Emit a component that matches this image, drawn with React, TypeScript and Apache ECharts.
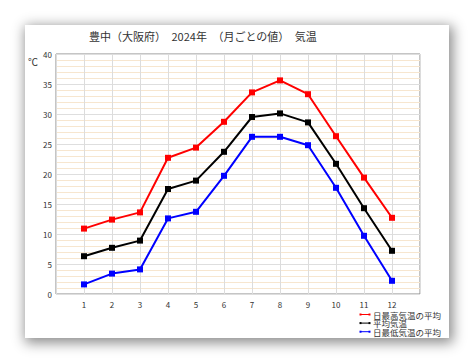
import React, { useEffect, useRef } from "react";
import * as echarts from "echarts";

const months = [1, 2, 3, 4, 5, 6, 7, 8, 9, 10, 11, 12];
const maxTemp = [10.9, 12.4, 13.6, 22.7, 24.4, 28.7, 33.6, 35.6, 33.3, 26.3, 19.4, 12.7];
const meanTemp = [6.3, 7.7, 8.9, 17.5, 18.9, 23.7, 29.5, 30.1, 28.6, 21.7, 14.3, 7.2];
const minTemp = [1.6, 3.4, 4.1, 12.6, 13.7, 19.7, 26.2, 26.2, 24.8, 17.7, 9.7, 2.2];
const seriesNames = ["日最高気温の平均", "平均気温", "日最低気温の平均"];
const titleText = "豊中（大阪府）　2024年　（月ごとの値）　気温";
const unitText = "℃";

const FONT = "'Noto Sans CJK JP', 'Noto Sans', sans-serif";

export default function App() {
  const ref = useRef<HTMLDivElement>(null);
  useEffect(() => {
    if (!ref.current) return;
    const chart = echarts.init(ref.current, undefined, { renderer: "svg" });
    const mk = (vals: number[]) => vals.map((v, i) => [months[i], v]);
    const colors = ["#ff0000", "#000000", "#0000ff"];
    const datas = [maxTemp, meanTemp, minTemp];
    const legendItems: any[] = [];
    seriesNames.forEach((name, i) => {
      const cy = 314.5 + i * 8.6;
      legendItems.push(
        { type: "line", shape: { x1: 360, y1: cy, x2: 370, y2: cy }, style: { stroke: colors[i], lineWidth: 1 } },
        { type: "rect", shape: { x: 359.5, y: cy - 1, width: 2, height: 2 }, style: { fill: colors[i] } },
        { type: "rect", shape: { x: 368.5, y: cy - 1, width: 2, height: 2 }, style: { fill: colors[i] } },
        {
          type: "text",
          x: 373,
          y: cy,
          style: {
            text: name,
            fontSize: 8.5,
            fontFamily: "Noto Sans CJK JP",
            lineHeight: 8,
            fill: "#333333",
            verticalAlign: "middle",
            align: "left",
          },
        }
      );
    });
    chart.setOption({
      animation: false,
      textStyle: { fontFamily: FONT },
      grid: { left: 56, top: 54, width: 364, height: 240, show: true, borderColor: "#8a8a8a", borderWidth: 1, backgroundColor: "#ffffff" },
      graphic: [
        { type: "text", left: 89, top: 30, style: { text: titleText, font: `11px ${FONT}`, fill: "#333333" } },
        { type: "text", left: 28, top: 56, style: { text: unitText, font: `10px ${FONT}`, fill: "#333333" } },
        ...legendItems,
      ],
      xAxis: {
        type: "value",
        min: 0,
        max: 13,
        interval: 1,
        axisLine: { show: false },
        axisTick: { show: false },
        axisLabel: {
          fontSize: 8,
          color: "#333333",
          margin: 6,
          formatter: (v: number) => (v >= 1 && v <= 12 ? String(v) : ""),
        },
        splitLine: { show: true, lineStyle: { color: "#dcdcdc", width: 1 } },
      },
      yAxis: {
        type: "value",
        min: 0,
        max: 40,
        interval: 5,
        axisLine: { show: false },
        axisTick: { show: false },
        axisLabel: { fontSize: 8, color: "#333333", margin: 4 },
        splitLine: { show: true, lineStyle: { color: "#dedede", width: 1 } },
        minorTick: { show: false, splitNumber: 5 },
        minorSplitLine: { show: true, lineStyle: { color: "#f7e6cf", width: 1 } },
      },
      series: datas.map((d, i) => ({
        name: seriesNames[i],
        type: "line",
        data: mk(d),
        symbol: "rect",
        symbolSize: 6,
        color: colors[i],
        lineStyle: { color: colors[i], width: 2 },
        itemStyle: { color: colors[i] },
        z: 10 - i,
      })),
    });
    return () => chart.dispose();
  }, []);
  return (
    <div style={{ position: "fixed", left: 0, top: 0, width: 474, height: 363, background: "#ffffff" }}>
      <div
        style={{
          position: "absolute",
          left: 25,
          top: 25,
          width: 424,
          height: 313,
          background: "#ffffff",
          boxShadow: "2px 3px 12px 2px rgba(0,0,0,0.45)",
        }}
      />
      <div ref={ref} style={{ position: "absolute", left: 0, top: 0, width: 474, height: 363 }} />
    </div>
  );
}
